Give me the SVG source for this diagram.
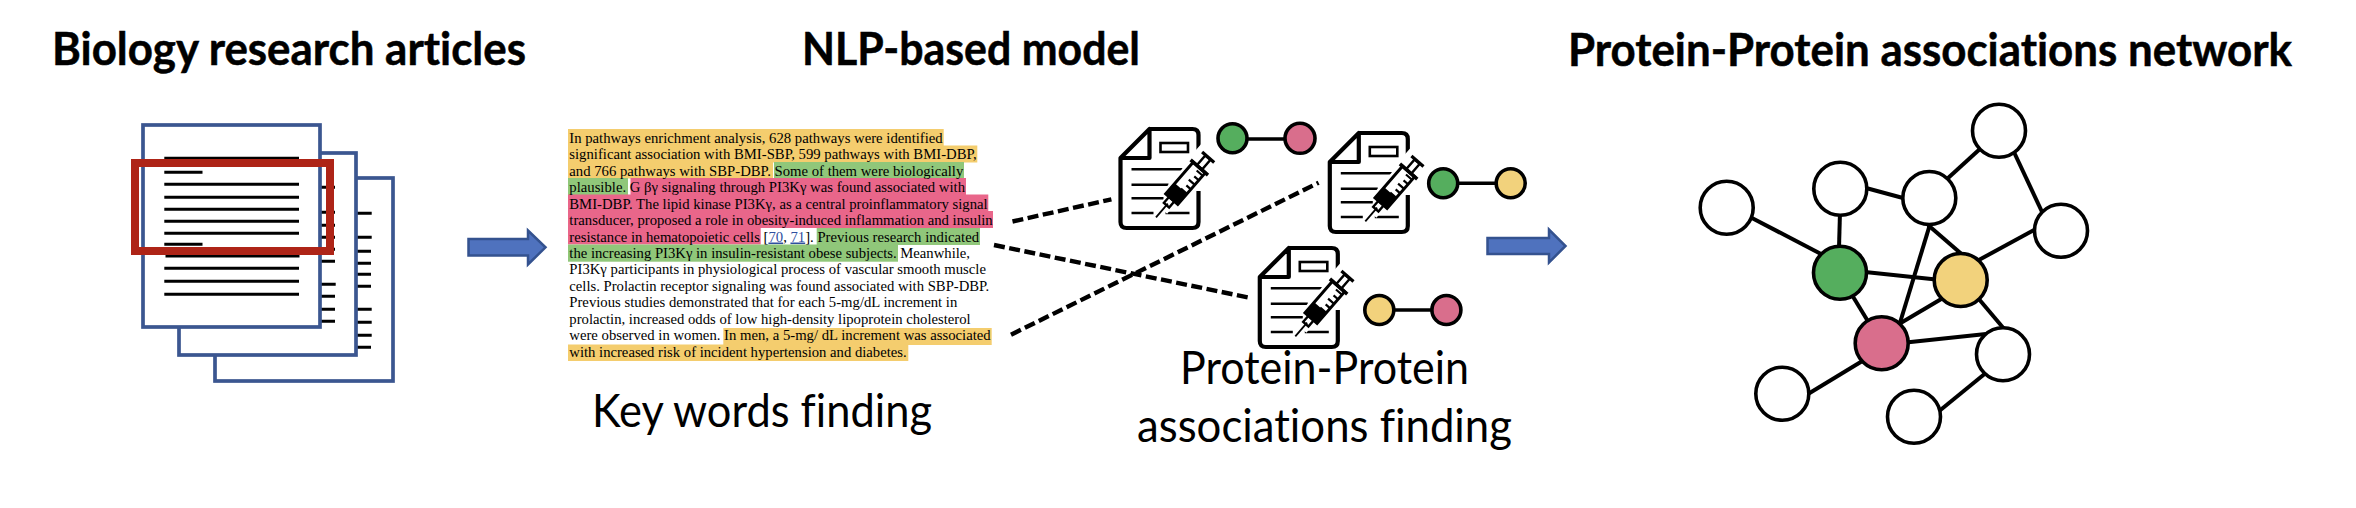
<svg xmlns="http://www.w3.org/2000/svg" width="2356" height="508" viewBox="0 0 2356 508">
<style>
  .title { font-family: "Lato", "Open Sans", sans-serif; font-weight: 700; font-size: 46px; fill: #000; font-variant-ligatures: none; stroke: #000; stroke-width: 0.5; }
  .label { font-family: "Lato", "Open Sans", sans-serif; font-weight: 400; font-size: 46px; fill: #000; font-variant-ligatures: none; }
  .body { font-family: "Liberation Serif", "Times New Roman", serif; font-size: 15.6px; fill: #000; }
  .ref { fill: #2f4f9f; text-decoration: underline; }
  .page { fill: #fff; stroke: #3b5690; stroke-width: 3.7; }
  .rule { stroke: #000; stroke-width: 3; fill: none; }
  .frame { fill: none; stroke: #ae2417; stroke-width: 8; }
  .flow { fill: #4f72be; stroke: #34528f; stroke-width: 2.5; }
  .hl-y { fill: #f4cd6e; }
  .hl-g { fill: #90c77a; }
  .hl-p { fill: #e9668a; }
  .dash { stroke: #000; stroke-width: 4.4; stroke-dasharray: 11 4.5; fill: none; }
  .edge { stroke: #000; stroke-width: 4; fill: none; }
  .dot { stroke: #000; stroke-width: 3.6; }
  .pair { stroke: #000; stroke-width: 3.6; fill: none; }
  .blank { fill: #fff; }
  .green { fill: #55ae5e; }
  .yellow { fill: #f2d27c; }
  .pink { fill: #d96e8c; }
  .ink { fill: none; stroke: #000; stroke-width: 4.2; stroke-linejoin: round; }
  .ink-thin { fill: none; stroke: #000; stroke-width: 2.6; }
</style>
<defs>
  <!-- Clinical report page with a syringe across its lower right corner -->
  <g id="report">
    <path class="ink" d="M31 2H74q6 0 6 6V34M80 64V95q0 6-6 6H8q-6 0-6-6V31L31 2V31H2"/>
    <rect class="ink-thin" x="42" y="16" width="27.5" height="9"/>
    <path class="ink-thin" d="M13 42.3H64M13 57.7H50M13 71.3H45M13 86H35M47 86H71"/>
    <g transform="translate(37.5 90.3) rotate(-49)">
      <path fill="#fff" d="M10-6H28V-12H72V-14H92V14H72V12H28V6H10Z"/>
      <path stroke="#000" stroke-width="1.8" d="M0 0H18"/>
      <rect x="16" y="-3.5" width="8" height="7" fill="none" stroke="#000" stroke-width="2.4"/>
      <rect x="24" y="-8" width="14" height="16" fill="#000"/>
      <rect x="24" y="-8" width="42" height="16" fill="none" stroke="#000" stroke-width="3"/>
      <path stroke="#000" stroke-width="2.2" d="M38 8V0M44 8V2M50 8V0M56 8V2M62 8V0"/>
      <path stroke="#000" stroke-width="3.6" d="M66-11.5V11.5"/>
      <rect x="66" y="-3.4" width="13" height="6.8" fill="none" stroke="#000" stroke-width="2.4"/>
      <path stroke="#000" stroke-width="3.2" d="M79.5-8V8"/>
    </g>
  </g>
</defs>

<rect width="2356" height="508" fill="#fff"/>

<g id="titles">
  <text class="title" x="52" y="65" textLength="474" lengthAdjust="spacingAndGlyphs">Biology research articles</text>
  <text class="title" x="802" y="65" textLength="338" lengthAdjust="spacingAndGlyphs">NLP-based model</text>
  <text class="title" x="1568" y="66" textLength="724" lengthAdjust="spacingAndGlyphs">Protein-Protein associations network</text>
</g>

<g id="articles">
  <rect class="page" x="215" y="178" width="178" height="203"/>
  <path class="rule" d="M240 213.3H371.7M240 237.3H371.7M240 251.3H371M240 263.3H371M240 274.3H371M240 286.3H371M240 309.3H371.7M240 322.3H371.7M240 335.3H371.7M240 347.3H371"/>
  <rect class="page" x="179" y="153" width="177" height="202"/>
  <path class="rule" d="M200 187.3H335M200 212.3H335M200 225.3H335M200 237.3H335M200 249.3H335M200 261.3H335M200 284.3H335.7M200 296.3H335M200 309.3H335M200 321.3H335"/>
  <rect class="page" x="143" y="125" width="177" height="202"/>
  <path class="rule" d="M164.3 158.3H299M164.3 172.3H202.5M164.3 184.3H299M164.3 197.3H299M164.3 209.3H299M164.3 221.3H299M164.3 233.3H299M164.3 244.3H202.5M165.5 256H299.5M164.3 268.3H299M164.3 281.3H299M164.3 294.3H299"/>
  <rect class="frame" x="135" y="163" width="195" height="88"/>
</g>

<g id="arrow-to-model">
  <path class="flow" d="M468.5 239H528V230.5L545.5 247.3L528 264.5V255.5H468.5Z"/>
</g>

<g id="annotated-text">
  <rect class="hl-y" x="568" y="129" width="375.7" height="17"/>
  <rect class="hl-y" x="568" y="145.5" width="409.3" height="17"/>
  <rect class="hl-y" x="568" y="162" width="205" height="16.5"/>
  <rect class="hl-g" x="774" y="162" width="190" height="16.5"/>
  <rect class="hl-g" x="568" y="178" width="60" height="17"/>
  <rect class="hl-p" x="630.5" y="178" width="335.5" height="17"/>
  <rect class="hl-p" x="568" y="194.5" width="420.3" height="17"/>
  <rect class="hl-p" x="568" y="211" width="425" height="17"/>
  <rect class="hl-p" x="568" y="227.5" width="192.7" height="17"/>
  <rect class="hl-g" x="816.7" y="228" width="163.3" height="17"/>
  <rect class="hl-g" x="568" y="244.5" width="330" height="17.2"/>
  <rect class="hl-y" x="723.3" y="328" width="268.4" height="17"/>
  <rect class="hl-y" x="568" y="344.5" width="340.3" height="16.5"/>
  <text class="body" x="569.3" y="142.7" textLength="373.4" lengthAdjust="spacingAndGlyphs">In pathways enrichment analysis, 628 pathways were identified</text>
  <text class="body" x="569.3" y="159.2" textLength="407.4" lengthAdjust="spacingAndGlyphs">significant association with BMI-SBP, 599 pathways with BMI-DBP,</text>
  <text class="body" x="569.3" y="175.6" textLength="394" lengthAdjust="spacingAndGlyphs">and 766 pathways with SBP-DBP. Some of them were biologically</text>
  <text class="body" x="569.3" y="192.1" textLength="395.7" lengthAdjust="spacingAndGlyphs">plausible. G βγ signaling through PI3Kγ was found associated with</text>
  <text class="body" x="569.3" y="208.5" textLength="418.4" lengthAdjust="spacingAndGlyphs">BMI-DBP. The lipid kinase PI3Kγ, as a central proinflammatory signal</text>
  <text class="body" x="569.3" y="225" textLength="423.4" lengthAdjust="spacingAndGlyphs">transducer, proposed a role in obesity-induced inflammation and insulin</text>
  <text class="body" x="569.3" y="241.5" textLength="409.7" lengthAdjust="spacingAndGlyphs">resistance in hematopoietic cells [<tspan class="ref">70</tspan>, <tspan class="ref">71</tspan>]. Previous research indicated</text>
  <text class="body" x="569.3" y="257.9" textLength="400.7" lengthAdjust="spacingAndGlyphs">the increasing PI3Kγ in insulin-resistant obese subjects. Meanwhile,</text>
  <text class="body" x="569.3" y="274.4" textLength="416.7" lengthAdjust="spacingAndGlyphs">PI3Kγ participants in physiological process of vascular smooth muscle</text>
  <text class="body" x="569.3" y="290.8" textLength="420" lengthAdjust="spacingAndGlyphs">cells. Prolactin receptor signaling was found associated with SBP-DBP.</text>
  <text class="body" x="569.3" y="307.3" textLength="388" lengthAdjust="spacingAndGlyphs">Previous studies demonstrated that for each 5-mg/dL increment in</text>
  <text class="body" x="569.3" y="323.8" textLength="401.4" lengthAdjust="spacingAndGlyphs">prolactin, increased odds of low high-density lipoprotein cholesterol</text>
  <text class="body" x="569.3" y="340.2" textLength="421.4" lengthAdjust="spacingAndGlyphs">were observed in women. In men, a 5-mg/ dL increment was associated</text>
  <text class="body" x="569.3" y="356.7" textLength="337.4" lengthAdjust="spacingAndGlyphs">with increased risk of incident hypertension and diabetes.</text>
</g>

<g id="captions">
  <text class="label" x="592" y="427" textLength="340" lengthAdjust="spacingAndGlyphs">Key words finding</text>
  <text class="label" x="1180" y="384" textLength="289" lengthAdjust="spacingAndGlyphs">Protein-Protein</text>
  <text class="label" x="1137" y="442" textLength="375" lengthAdjust="spacingAndGlyphs">associations finding</text>
</g>

<g id="model-connectors">
  <path class="dash" d="M1012.5 221.5L1111.4 199.3"/>
  <path class="dash" d="M994 245L1249.3 297.7"/>
  <path class="dash" d="M1011 334.7L1318.6 182.7"/>
</g>

<g id="report-a">
  <use href="#report" x="1118.5" y="127"/>
  <path class="pair" d="M1232.5 139H1300"/>
  <circle class="dot green" cx="1232.5" cy="138.3" r="14.5"/>
  <circle class="dot pink" cx="1300" cy="138.3" r="15"/>
</g>
<g id="report-b">
  <use href="#report" x="1327.8" y="131"/>
  <path class="pair" d="M1443.2 183.3H1510.7"/>
  <circle class="dot green" cx="1443.2" cy="183.3" r="14.5"/>
  <circle class="dot yellow" cx="1510.7" cy="183.3" r="14.5"/>
</g>
<g id="report-c">
  <use href="#report" x="1257.8" y="246"/>
  <path class="pair" d="M1379.3 310H1446.4"/>
  <circle class="dot yellow" cx="1379.3" cy="310" r="14.5"/>
  <circle class="dot pink" cx="1446.4" cy="310" r="14.5"/>
</g>

<g id="arrow-to-network">
  <path class="flow" d="M1487.5 238H1549V229.5L1565.5 246L1549 262.5V254H1487.5Z"/>
</g>

<g id="network-connectors">
  <path class="edge" d="M1750 217L1822 254.5"/>
  <path class="edge" d="M1840 212L1839 248"/>
  <path class="edge" d="M1866 188L1903 198"/>
  <path class="edge" d="M1947 179L1981 148"/>
  <path class="edge" d="M2013 150L2043 214"/>
  <path class="edge" d="M2036 229L1977 261"/>
  <path class="edge" d="M1928 225L1965 257"/>
  <path class="edge" d="M1929.3 226.7L1899 326"/>
  <path class="edge" d="M1865 272L1936 279.5"/>
  <path class="edge" d="M1852 295L1869 323"/>
  <path class="edge" d="M1943 298L1899 324"/>
  <path class="edge" d="M1978 298L2005 330"/>
  <path class="edge" d="M1906 342.6L1986 334"/>
  <path class="edge" d="M1864 360L1808 394"/>
  <path class="edge" d="M1987 372L1938 412"/>
</g>

<g id="node-1"><circle class="dot blank" cx="1726.7" cy="207.7" r="26.5"/></g>
<g id="node-2"><circle class="dot blank" cx="1840.3" cy="188.7" r="26.5"/></g>
<g id="node-3"><circle class="dot blank" cx="1929.3" cy="198" r="26.5"/></g>
<g id="node-4"><circle class="dot blank" cx="1999" cy="130.7" r="26.5"/></g>
<g id="node-5"><circle class="dot blank" cx="2061" cy="230.7" r="26.5"/></g>
<g id="node-green"><circle class="dot green" cx="1840" cy="272.7" r="26.5"/></g>
<g id="node-yellow"><circle class="dot yellow" cx="1960.7" cy="280" r="26.5"/></g>
<g id="node-pink"><circle class="dot pink" cx="1881.7" cy="343.3" r="26.5"/></g>
<g id="node-6"><circle class="dot blank" cx="2003" cy="354.3" r="26.5"/></g>
<g id="node-7"><circle class="dot blank" cx="1782.3" cy="393.7" r="26.5"/></g>
<g id="node-8"><circle class="dot blank" cx="1914" cy="416.7" r="26.5"/></g>
</svg>
